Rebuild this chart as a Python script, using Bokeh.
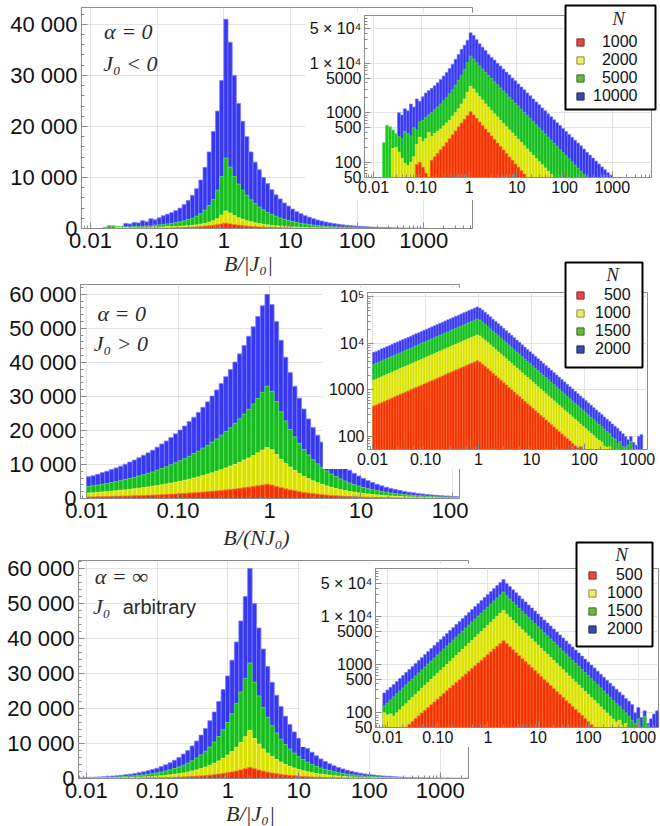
from bokeh.plotting import figure
from bokeh.models import (ColumnDataSource, FixedTicker, Label, Legend, LegendItem, Range1d,
                          BoxAnnotation)
from bokeh.layouts import column
from bokeh.embed import file_html
from bokeh.resources import INLINE

# ======================= DATA =======================
# Panel 1: alpha = 0, J0 < 0 ; log bins, 16 per decade, first edge 10^(-29/16)
P1_EDGE0 = -29 / 16
P1_PER_DEC = 16
P1_LABELS = ["1000", "2000", "5000", "10000"]
P1_RED_I0 = 11
P1_RED = [90, 100, 80, 60, 45, 110, 130, 150, 180, 210, 250, 300, 360, 430, 520, 620, 740, 880,
          1050, 900, 770, 650, 550, 470, 400, 340, 290, 245, 210, 178, 150, 128, 110, 93, 80, 68, 58, 50, 43]
P1_YELLOW_I0 = 3
P1_YELLOW = [190, 200, 160, 120, 95, 85, 100, 130, 230, 320, 260, 300, 400, 330, 380, 420, 470, 540, 620, 700,
             850, 1000, 1200, 1500, 1900, 2600,
             3400, 3000, 2500, 2100, 1800, 1500, 1300, 1100, 950, 820, 700, 600, 520, 450, 390, 335, 290, 250,
             215, 185, 160, 138, 119, 103, 89, 77, 66, 57, 50]
P1_GREEN_I0 = 0
P1_GREEN = [250, 560, 520, 450, 380, 330, 300, 420, 380, 340, 500, 450, 650, 700, 800, 900, 1000, 1150, 1300,
            1500, 1750, 2000, 2400, 2900, 3600, 4500, 5700, 7500, 10200,
            13800, 12000, 10200, 8700, 7500, 6500, 5600, 4900, 4200, 3650, 3150, 2750, 2400, 2050, 1800, 1550,
            1350, 1170, 1010, 880, 760, 660, 570, 495, 430, 370, 320, 280, 240, 210, 180, 157, 136, 118, 102,
            88, 76, 66, 57, 50]
P1_BLUE_I0 = 5
P1_BLUE = [1000, 900, 1200, 1100, 1500, 1300, 1900, 1700, 2100, 2500, 2800, 3100, 3500, 4000, 4700, 5500,
           6500, 7800, 9500, 12000, 15000, 19000, 23000, 29000,
           41000, 36500, 30000, 24500, 21000, 18000, 15000, 13000, 11500, 10000, 8800, 7600, 6600, 5800, 5000,
           4400, 3800, 3300, 2900, 2500, 2200, 1900, 1650, 1450, 1250, 1100, 950, 830, 720, 630, 550, 480, 420,
           365, 320, 280, 245, 215, 185, 160, 140, 122, 106, 93, 81, 71, 62, 55, 50]

# Panel 2: alpha = 0, J0 > 0 ; log bins, 20 per decade, first edge 10^-2
P2_EDGE0 = -2.0
P2_PER_DEC = 20
P2_LABELS = ["500", "1000", "1500", "2000"]
P2_RED_I0 = 0
P2_RED = [448, 475, 503, 532, 564, 597, 632, 670, 709, 751, 795, 842, 892, 945, 1000, 1060, 1120, 1190, 1260,
          1330, 1410, 1500, 1580, 1680, 1780, 1880, 1990, 2110, 2240, 2370, 2510, 2660, 2810, 2980, 3150, 3340,
          3540, 3750, 3970, 4200,
          3950, 3550, 3180, 2840, 2530, 2260, 2010, 1790, 1600, 1420, 1270, 1130, 1010, 900, 800, 715, 637, 568,
          506, 451, 402, 358, 319, 284, 253, 226, 201, 179, 160, 142, 127, 113, 101, 90, 80, 71, 63, 57, 60, 52, 45]
P2_YELLOW_I0 = 0
P2_YELLOW = [1600, 1690, 1790, 1900, 2010, 2130, 2260, 2390, 2530, 2680, 2840, 3010, 3190, 3370, 3570, 3780,
             4010, 4240, 4490, 4760, 5040, 5340, 5650, 5990, 6340, 6720, 7110, 7530, 7980, 8450, 8950, 9500,
             10000, 10600, 11300, 11900, 12600, 13400, 14200, 15000,
             14300, 12900, 11500, 10300, 9200, 8200, 7300, 6500, 5800, 5170, 4610, 4110, 3660, 3260, 2910, 2590,
             2310, 2060, 1840, 1640, 1460, 1300, 1160, 1030, 920, 820, 730, 650, 580, 517, 461, 411, 366, 326,
             291, 259, 231, 206, 183, 163, 146, 130, 116, 103, 90, 82, 75, 62, 58, 60, 48]
P2_GREEN_I0 = 0
P2_GREEN = [3500, 3720, 3940, 4170, 4420, 4680, 4950, 5250, 5550, 5900, 6200, 6600, 7000, 7400, 7800, 8300,
            8800, 9300, 9900, 10500, 11100, 11700, 12400, 13200, 13900, 14800, 15600, 16600, 17500, 18600,
            19700, 20800, 22100, 23400, 24800, 26200, 27800, 29400, 31200, 33000,
            31500, 28500, 25500, 22800, 20300, 18100, 16200, 14400, 12800, 11400, 10200, 9100, 8100, 7200, 6450,
            5750, 5120, 4560, 4070, 3630, 3230, 2880, 2570, 2290, 2040, 1820, 1620, 1440, 1290, 1150, 1020, 910,
            810, 725, 645, 575, 510, 455, 405, 362, 322, 287, 256, 228, 203, 181, 161, 143, 128, 114, 95, 88, 70,
            78, 60, 55, 65, 78]
P2_BLUE_I0 = 0
P2_BLUE = [6400, 6700, 7100, 7600, 8000, 8500, 9000, 9500, 10100, 10700, 11300, 12000, 12700, 13400, 14200,
           15100, 16000, 16900, 17900, 19000, 20100, 21300, 22600, 23900, 25300, 26800, 28400, 30100, 31900,
           33800, 35800, 37900, 40100, 42500, 45000, 47700, 50500, 53500, 56650, 60000,
           57000, 52000, 46500, 41500, 37000, 33000, 29500, 26300, 23400, 20900, 18600, 16600, 14800, 13200,
           11700, 10500, 9300, 8300, 7400, 6600, 5900, 5250, 4680, 4170, 3720, 3310, 2950, 2630, 2350, 2090,
           1860, 1660, 1480, 1320, 1170, 1050, 930, 830, 740, 660, 590, 525, 470, 415, 370, 330, 295, 262, 235,
           210, 186, 166, 150, 130, 115, 100, 85, 100, 75, 65, 100, 110]

# Panel 3: alpha = infinity ; log bins, 16 per decade, first edge 10^-2.22
P3_EDGE0 = -2.22
P3_PER_DEC = 16
P3_LABELS = ["500", "1000", "1500", "2000"]
P3_RED_I0 = 9
P3_RED = [51, 58, 66, 76, 87, 99, 113, 129, 148, 169, 193, 221, 253, 289, 330, 377, 431, 493, 565, 645, 735,
          840, 960, 1100, 1255, 1430, 1640, 1870, 2140, 2450, 2800, 3200,
          2770, 2400, 2080, 1800, 1560, 1350, 1170, 1010, 875, 760, 655, 570, 493, 427, 370, 320, 277, 240, 208,
          180, 156, 135, 117, 101, 88, 76, 66, 57, 50]
P3_YELLOW_I0 = 2
P3_YELLOW = [100, 90, 95, 85, 100, 115, 135, 155, 180, 210, 240, 280, 325, 375, 430, 500, 575, 665, 765, 885,
             1020, 1180, 1360, 1570, 1820, 2100, 2430, 2800, 3240, 3740, 4320, 4990, 5760, 6650, 7700, 8900,
             10300, 11900, 13700,
             11400, 9800, 8400, 7250, 6250, 5400, 4650, 4000, 3450, 2980, 2570, 2210, 1910, 1650, 1420, 1230,
             1060, 915, 790, 680, 585, 505, 435, 375, 325, 280, 240, 207, 180, 155, 133, 115, 99, 85, 74, 64, 70,
             55, 60, 48]
P3_GREEN_I0 = 2
P3_GREEN = [140, 160, 185, 215, 250, 285, 330, 380, 440, 505, 585, 675, 780, 900, 1040, 1200, 1380, 1600, 1840,
            2130, 2460, 2840, 3280, 3790, 4380, 5060, 5850, 6750, 7800, 9000, 10400, 12000, 13900, 16000, 18500,
            21400, 24700, 28600, 33000,
            27500, 23600, 20300, 17500, 15100, 13000, 11200, 9700, 8400, 7250, 6250, 5400, 4650, 4020, 3470,
            3000, 2590, 2240, 1930, 1670, 1440, 1240, 1075, 930, 800, 690, 600, 515, 445, 385, 330, 285, 245,
            210, 180, 155, 135, 115, 100, 85, 70, 60, 75, 50, 85, 55]
P3_BLUE_I0 = 2
P3_BLUE = [260, 300, 340, 390, 450, 520, 600, 700, 800, 930, 1070, 1240, 1430, 1650, 1900, 2200, 2550, 2950,
           3400, 3900, 4500, 5200, 6000, 7000, 8000, 9300, 10700, 12400, 14300, 16500, 19000, 22000, 25400,
           29300, 33800, 39000, 45000, 52000, 60000,
           50000, 43000, 37000, 32000, 27500, 23800, 20600, 17800, 15400, 13300, 11500, 10000, 8600, 7500, 6500,
           5600, 4850, 4200, 3640, 3150, 2730, 2360, 2040, 1770, 1530, 1320, 1150, 990, 860, 740, 640, 555, 480,
           415, 360, 310, 270, 235, 200, 175, 150, 100, 130, 80, 110, 60, 75, 95, 110]

# tick values / labels
X_TICKS = [0.01, 0.1, 1, 10, 100, 1000]
X_TICK_LABELS = ["0.01", "0.10", "1", "10", "100", "1000"]
P1_Y_TICKS = [0, 10000, 20000, 30000, 40000]
P23_Y_TICKS = [0, 10000, 20000, 30000, 40000, 50000, 60000]
INSET13_Y_TICKS = [50, 100, 500, 1000, 5000, 10000, 50000]
INSET13_Y_LABELS = ["50", "100", "500", "1000", "5000", "1 \u00d7 10\u2074", "5 \u00d7 10\u2074"]
INSET2_Y_TICKS = [100, 1000, 10000, 100000]
INSET2_Y_LABELS = ["100", "1000", "10\u2074", "10\u2075"]

# ======================= STYLE =======================
FILLS = ["#f42600", "#e2e200", "#17c017", "#2c2cf0"]
LINES = ["#ff7040", "#f8f866", "#58e858", "#7c7cff"]
LEG_FILLS = ["#e24a4a", "#eeee6a", "#6cb83e", "#3b4aa6"]
LEG_LINES = ["#8a2a2a", "#8a8a3a", "#3a6a20", "#222a66"]
FRAME = "#8c8c8c"
GRID = "#e4e4e4"
SANS = "Liberation Sans"
SERIF = "Liberation Serif"
PAGE_W, PAGE_H = 660, 826
NAN = float("nan")

LOG_MINOR = [m * 10.0 ** e for e in range(-3, 5) for m in range(2, 10)]


def fmt_int(v):
    return f"{v:,}".replace(",", " ")


def no_align(p):
    try:
        p.frame_align = False
    except AttributeError:
        pass


def source(edge0, per_dec, i0, counts, bottom):
    n = len(counts)
    left = [10 ** (edge0 + (i0 + j) / per_dec) for j in range(n)]
    right = [10 ** (edge0 + (i0 + j + 1) / per_dec) for j in range(n)]
    return ColumnDataSource(dict(left=left, right=right, top=counts, bottom=[bottom] * n))


def style_axes(p, font_px, standoff):
    for ax in (p.xaxis[0], p.yaxis[0]):
        ax.axis_line_color = FRAME
        ax.major_tick_line_color = FRAME
        ax.minor_tick_line_color = FRAME
        ax.major_tick_in = 6
        ax.major_tick_out = 0
        ax.minor_tick_in = 3
        ax.minor_tick_out = 0
        ax.major_label_text_font = SANS
        ax.major_label_text_font_size = f"{font_px}px"
        ax.major_label_text_color = "#111111"
        ax.major_label_standoff = standoff
    p.outline_line_color = FRAME
    p.outline_line_width = 1
    p.grid.grid_line_color = GRID
    p.grid.grid_line_width = 1


def draw_series(p, series, edge0, per_dec, bottom, lw):
    # blue first (behind), red last (front)
    for k in (3, 2, 1, 0):
        i0, counts = series[k]
        p.quad(left="left", right="right", top="top", bottom="bottom",
               source=source(edge0, per_dec, i0, counts, bottom),
               fill_color=FILLS[k], line_color=LINES[k], line_width=lw, fill_alpha=0.95)


def main_fig(w, h, borders, xr, yr, series, edge0, per_dec, yticks):
    p = figure(width=w, height=h, x_axis_type="log",
               x_range=Range1d(10 ** xr[0], 10 ** xr[1]), y_range=Range1d(0, yr),
               output_backend="svg", toolbar_location=None)
    no_align(p)
    p.min_border_left, p.min_border_right, p.min_border_top, p.min_border_bottom = borders
    draw_series(p, series, edge0, per_dec, 0, 0.8)
    p.xaxis.ticker = FixedTicker(ticks=X_TICKS, minor_ticks=LOG_MINOR)
    p.xaxis.major_label_overrides = dict(zip(X_TICKS, X_TICK_LABELS))
    minor = [v for v in range(0, 70000, 2000) if v % 10000]
    p.yaxis.ticker = FixedTicker(ticks=yticks, minor_ticks=minor)
    p.yaxis.major_label_overrides = {t: fmt_int(t) for t in yticks}
    style_axes(p, 22, 4)
    return p


def inset_fig(w, h, borders, xr, yr, series, edge0, per_dec, yticks, ylabels):
    p = figure(width=w, height=h, x_axis_type="log", y_axis_type="log",
               x_range=Range1d(10 ** xr[0], 10 ** xr[1]), y_range=Range1d(yr[0], 10 ** yr[1]),
               output_backend="svg", toolbar_location=None)
    no_align(p)
    p.min_border_left, p.min_border_right, p.min_border_top, p.min_border_bottom = borders
    draw_series(p, series, edge0, per_dec, 1, 0.6)
    p.xaxis.ticker = FixedTicker(ticks=X_TICKS, minor_ticks=LOG_MINOR)
    p.xaxis.major_label_overrides = dict(zip(X_TICKS, X_TICK_LABELS))
    p.yaxis.ticker = FixedTicker(ticks=yticks, minor_ticks=LOG_MINOR)
    p.yaxis.major_label_overrides = dict(zip(yticks, ylabels))
    style_axes(p, 16, 3)
    return p


def note(p, x, y, text, font=SERIF, style="italic", size="22px", align="left"):
    p.add_layout(Label(x=x, y=y, text=text, text_font=font, text_font_style=style,
                       text_font_size=size, text_align=align, text_baseline="middle",
                       text_color="#2a2a2a"))


P1_SERIES = [(P1_RED_I0, P1_RED), (P1_YELLOW_I0, P1_YELLOW), (P1_GREEN_I0, P1_GREEN), (P1_BLUE_I0, P1_BLUE)]
P2_SERIES = [(P2_RED_I0, P2_RED), (P2_YELLOW_I0, P2_YELLOW), (P2_GREEN_I0, P2_GREEN), (P2_BLUE_I0, P2_BLUE)]
P3_SERIES = [(P3_RED_I0, P3_RED), (P3_YELLOW_I0, P3_YELLOW), (P3_GREEN_I0, P3_GREEN), (P3_BLUE_I0, P3_BLUE)]

# ---------- panel 1 ----------
a1 = main_fig(481, 273, (81, 9, 7, 45), (-2.135, 3.73), 43300, P1_SERIES, P1_EDGE0, P1_PER_DEC, P1_Y_TICKS)
note(a1, 0.016, 38600, "\u03b1 = 0")
note(a1, 0.0155, 32400, "J\u2080 < 0")
b1 = inset_fig(353, 188, (59, 7, 3, 23), (-2.19, 3.82), (49.5, 4.96), P1_SERIES, P1_EDGE0, P1_PER_DEC,
               INSET13_Y_TICKS, INSET13_Y_LABELS)

# ---------- panel 2 ----------
a2 = main_fig(468, 272, (80, 9, 8, 50), (-2.066, 2.077), 62900, P2_SERIES, P2_EDGE0, P2_PER_DEC, P23_Y_TICKS)
note(a2, 0.0132, 54400, "\u03b1 = 0")
note(a2, 0.012, 45600, "J\u2080 > 0")
b2 = inset_fig(336, 182, (45, 11, 5, 20), (-2.094, 3.19), (52.5, 5.09), P2_SERIES, P2_EDGE0, P2_PER_DEC,
               INSET2_Y_TICKS, INSET2_Y_LABELS)

# ---------- panel 3 ----------
a3 = main_fig(477, 274, (78, 9, 8, 48), (-2.11, 3.40), 62300, P3_SERIES, P3_EDGE0, P3_PER_DEC, P23_Y_TICKS)
note(a3, 0.0132, 57700, "\u03b1 = \u221e")
note(a3, 0.0124, 49100, "J\u2080")
note(a3, 0.0327, 49100, "arbitrary", font=SANS, style="normal", size="20px")
b3 = inset_fig(360, 184, (75, 2, 5, 20), (-2.24, 3.40), (49.5, 5.01), P3_SERIES, P3_EDGE0, P3_PER_DEC,
               INSET13_Y_TICKS, INSET13_Y_LABELS)

# ---------- transparent overlay in page pixels: axis titles and legends ----------
ov = figure(width=PAGE_W, height=PAGE_H, x_range=Range1d(0, PAGE_W), y_range=Range1d(PAGE_H, 0),
            x_axis_location=None, y_axis_location=None, output_backend="svg", toolbar_location=None)
no_align(ov)
ov.min_border_left = ov.min_border_right = ov.min_border_top = ov.min_border_bottom = 0
ov.border_fill_alpha = 0
ov.background_fill_alpha = 0
ov.outline_line_color = None
ov.grid.visible = False

note(ov, 248, 263, "B/|J\u2080|", align="center")
note(ov, 256, 537, "B/(NJ\u2080)", align="center")
note(ov, 250, 813, "B/|J\u2080|", align="center")

# legend boxes: (left, top, right, bottom, glyph-left, rows-bottom, standoff, N-x, N-y, labels)
LEGENDS = [(565, 5, 655, 109, 571, 105, 4, 618, 18, P1_LABELS),
           (565, 262, 642, 367, 571, 358, 6, 612, 274, P2_LABELS),
           (576, 542, 652, 646, 583, 638, 6, 621, 554, P3_LABELS)]
for (l, t, r, b, gx, rb, so, nx, ny, labels) in LEGENDS:
    ov.add_layout(BoxAnnotation(left=l, right=r, top=t, bottom=b, fill_color="white", fill_alpha=1,
                                line_color="black", line_width=2, line_alpha=1))
    width = max(len(s) for s in labels)
    items = []
    for k, lab in enumerate(labels):
        # legend swatch proxy: a single undrawn (NaN) point carrying the swatch style
        rr = ov.scatter(x=[NAN], y=[NAN], marker="square", size=8,
                        fill_color=LEG_FILLS[k], line_color=LEG_LINES[k], line_width=1)
        items.append(LegendItem(label="\u2007" * (width - len(lab)) + lab, renderers=[rr]))
    ov.add_layout(Legend(items=items, location=(gx, PAGE_H - rb), padding=0, margin=0, spacing=0,
                         glyph_width=18, glyph_height=18, label_height=18, label_standoff=so,
                         label_text_font=SANS, label_text_font_size="16px", label_text_color="#111111",
                         background_fill_alpha=0, border_line_alpha=0))
    note(ov, nx, ny, "N", size="19px", align="center")

# ---------- overlapping placement (left, top) ----------
placed = [(a1, 0, 0), (b1, 305, 12), (a2, 0, 276), (b2, 322, 287),
          (a3, 0, 552), (b3, 300, 563), (ov, 0, 0)]
flow = 0
for fig, left, top in placed:
    fig.margin = (top - flow, 0, 0, left)
    flow = top + fig.height

root = column(*[f for f, _, _ in placed])
open("out.html", "w").write(file_html(root, INLINE))
